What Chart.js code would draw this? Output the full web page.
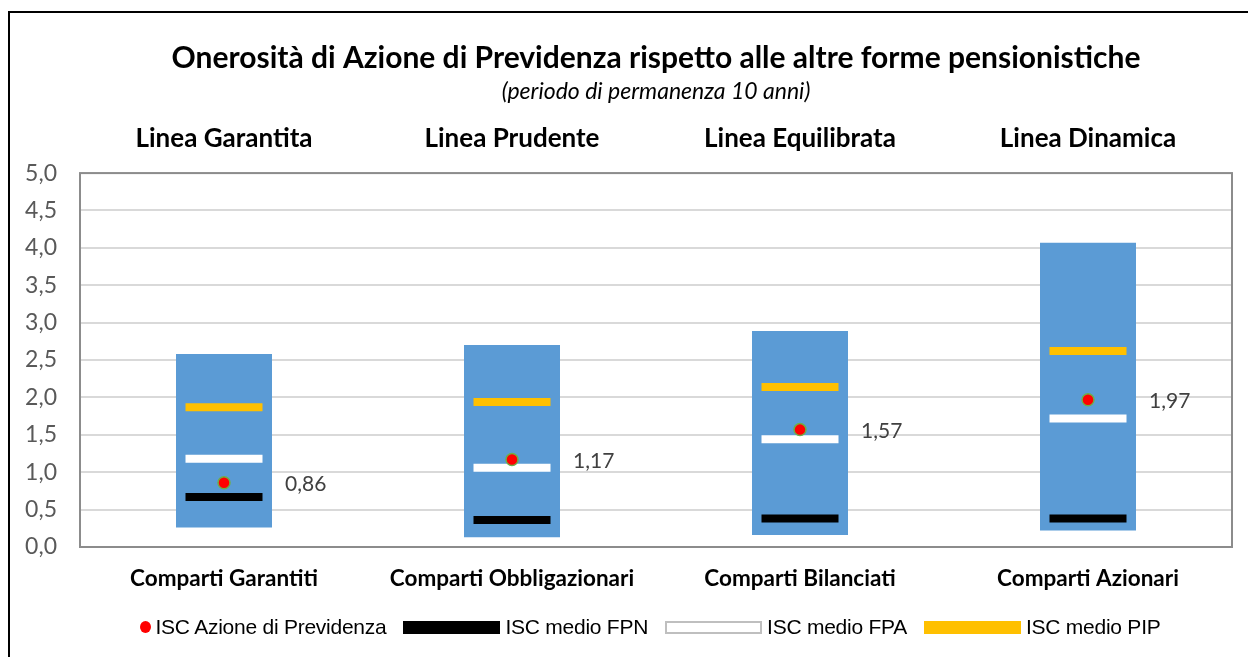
<!DOCTYPE html>
<html>
<head>
<meta charset="utf-8">
<script src="https://cdn.jsdelivr.net/npm/chart.js@4/dist/chart.umd.min.js"></script>
<style>
  html, body { margin: 0; padding: 0; background: #fff; }
  #wrap { position: relative; width: 1248px; height: 657px; overflow: hidden; }
  #chart { position: absolute; left: 0; top: 0; }
  #frame { position: absolute; left: 8px; top: 11px; width: 1300px; height: 700px; border: 2px solid #000; pointer-events: none; }
  #legend { position: absolute; left: 74px; top: 614px; width: 1152px; height: 26px;
    display: flex; justify-content: center; align-items: center;
    font-family: "Liberation Sans", Arial, sans-serif; font-size: 21px; color: #000; letter-spacing: -0.25px; }
  #legend .item { display: flex; align-items: center; margin-right: 17px; }
  #legend .item:last-child { margin-right: 0; }
  #legend .dot { width: 11px; height: 12px; border-radius: 50%; background: #ff0000; margin-right: 5px; }
  #legend .box { width: 97px; height: 13px; margin-right: 5px; box-sizing: border-box; }
</style>
</head>
<body>
<div id="wrap">
  <canvas id="chart" width="1248" height="657"></canvas>
  <div id="frame"></div>
  <div id="legend"></div>
</div>
<script>
// categories
const comparti = ['Comparti Garantiti', 'Comparti Obbligazionari', 'Comparti Bilanciati', 'Comparti Azionari'];
const linee = ['Linea Garantita', 'Linea Prudente', 'Linea Equilibrata', 'Linea Dinamica'];

// range of ISC across the market (min, max)
const iscMin = [0.26, 0.13, 0.16, 0.22];
const iscMax = [2.58, 2.70, 2.89, 4.07];

// averages and the fund itself
const iscAzione = [0.86, 1.17, 1.57, 1.97];
const iscFPN = [0.67, 0.36, 0.38, 0.38];
const iscFPA = [1.18, 1.06, 1.44, 1.72];
const iscPIP = [1.87, 1.94, 2.14, 2.62];

const yTicks = [0, 0.5, 1, 1.5, 2, 2.5, 3, 3.5, 4, 4.5, 5];

const fmt = (v, d) => v.toFixed(d).replace('.', ',');
const FONT = 'Lato, "Open Sans", sans-serif';

const legendItems = [
  { label: 'ISC Azione di Previdenza', kind: 'dot' },
  { label: 'ISC medio FPN', kind: 'box', fill: '#000000', border: 'none' },
  { label: 'ISC medio FPA', kind: 'box', fill: '#ffffff', border: '2px solid #bfbfbf' },
  { label: 'ISC medio PIP', kind: 'box', fill: '#ffc000', border: 'none' },
];

const legendEl = document.getElementById('legend');
legendItems.forEach((it) => {
  const item = document.createElement('div');
  item.className = 'item';
  const mark = document.createElement('span');
  if (it.kind === 'dot') {
    mark.className = 'dot';
  } else {
    mark.className = 'box';
    mark.style.background = it.fill;
    mark.style.border = it.border;
  }
  const txt = document.createElement('span');
  txt.textContent = it.label;
  item.appendChild(mark);
  item.appendChild(txt);
  legendEl.appendChild(item);
});

// grey plot frame + value labels next to the red dots
const extras = {
  id: 'extras',
  beforeDatasetsDraw(chart) {
    const { ctx, chartArea: a } = chart;
    ctx.save();
    ctx.strokeStyle = '#8c8c8c';
    ctx.lineWidth = 2;
    ctx.strokeRect(a.left, a.top, a.right - a.left, a.bottom - a.top);
    ctx.restore();
  },
  afterDatasetsDraw(chart) {
    const { ctx } = chart;
    const meta = chart.getDatasetMeta(0);
    ctx.save();
    ctx.font = '21px ' + FONT;
    ctx.fillStyle = '#404040';
    ctx.textAlign = 'left';
    ctx.textBaseline = 'middle';
    meta.data.forEach((pt, i) => {
      ctx.fillText(fmt(iscAzione[i], 2), pt.x + 61, pt.y + 2);
    });
    ctx.restore();
  },
};

const marker = (label, data, color, order) => ({
  type: 'line',
  label,
  data,
  showLine: false,
  pointStyle: 'line',
  pointRadius: 38.5,
  pointHoverRadius: 38.5,
  pointBorderWidth: 8,
  pointHoverBorderWidth: 8,
  borderColor: color,
  backgroundColor: color,
  order,
});

new Chart(document.getElementById('chart'), {
  type: 'bar',
  data: {
    labels: comparti,
    datasets: [
      {
        type: 'line',
        label: 'ISC Azione di Previdenza',
        data: iscAzione,
        showLine: false,
        pointStyle: 'circle',
        pointRadius: 6,
        pointHoverRadius: 6,
        pointBackgroundColor: '#ff0000',
        pointBorderColor: '#70ad47',
        pointBorderWidth: 1.5,
        order: 0,
      },
      marker('ISC medio FPN', iscFPN, '#000000', 1),
      marker('ISC medio FPA', iscFPA, '#ffffff', 2),
      marker('ISC medio PIP', iscPIP, '#ffc000', 3),
      {
        label: 'Range ISC',
        data: iscMin.map((v, i) => [v, iscMax[i]]),
        backgroundColor: '#5b9bd5',
        borderWidth: 0,
        categoryPercentage: 1,
        barPercentage: 1 / 3,
        order: 10,
      },
    ],
  },
  options: {
    responsive: false,
    animation: false,
    layout: { autoPadding: false, padding: { left: 0, right: 16, top: 0, bottom: 64 } },
    plugins: {
      legend: { display: false },
      tooltip: { enabled: false },
      title: {
        display: true,
        fullSize: false,
        text: 'Onerosità di Azione di Previdenza rispetto alle altre forme pensionistiche',
        color: '#000',
        font: { family: FONT, size: 30, weight: 'bold' },
        padding: { top: 40, bottom: 2 },
      },
      subtitle: {
        display: true,
        fullSize: false,
        text: '(periodo di permanenza 10 anni)',
        color: '#000',
        font: { family: FONT, size: 23, style: 'italic' },
        padding: { top: 0, bottom: 18 },
      },
    },
    scales: {
      x: {
        afterFit: (axis) => { axis.height = 46; },
        grid: { display: false, drawTicks: false },
        border: { display: false },
        ticks: { color: '#000', font: { family: FONT, size: 22.5, weight: 'bold' }, padding: 18.5 },
      },
      x2: {
        type: 'category',
        position: 'top',
        labels: linee,
        afterFit: (axis) => { axis.height = 49.5; },
        grid: { display: false, drawTicks: false },
        border: { display: false },
        ticks: { color: '#000', font: { family: FONT, size: 26, weight: 'bold' }, padding: 19 },
      },
      y: {
        min: 0,
        max: 5,
        afterBuildTicks: (axis) => { axis.ticks = yTicks.map((v) => ({ value: v })); },
        afterFit: (axis) => { axis.width = 80; },
        grid: { color: '#d9d9d9', lineWidth: 2, drawTicks: false },
        border: { display: false },
        ticks: { color: '#595959', font: { family: FONT, size: 23 }, padding: 23, callback: (v) => fmt(v, 1) },
      },
    },
  },
  plugins: [extras],
});
</script>
</body>
</html>
